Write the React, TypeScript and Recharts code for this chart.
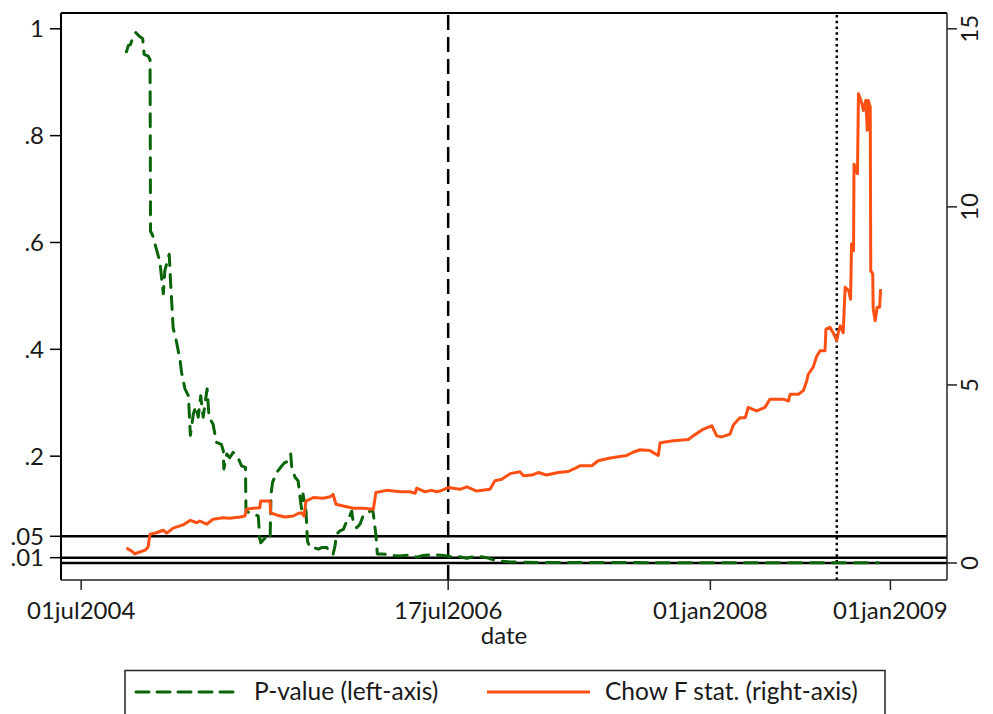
import React from 'react';
import { LineChart, Line, XAxis, YAxis, ReferenceLine } from 'recharts';

// days counted from 01jul2004
const xTicks = [0, 746, 1279, 1645];
const xTickLabels = ['01jul2004', '17jul2006', '01jan2008', '01jan2009'];

const leftTicks = [1, 0.8, 0.6, 0.4, 0.2, 0.05, 0.01];
const leftTickLabels = ['1', '.8', '.6', '.4', '.2', '.05', '.01'];
const rightTicks = [0, 5, 10, 15];

// break dates marked with vertical lines
const breakDay = 746; // 17jul2006
const crisisDay = 1536; // mid-Sep 2008
// significance levels drawn as horizontal rules
const sigLevels = [0.05, 0.01, 0];

const pDay = [
  92, 96, 100, 106, 111, 118, 125, 128, 136, 140, 141, 145, 153, 160, 167, 170, 179, 182, 187, 194,
  201, 204, 211, 218, 222, 228, 233, 238, 243, 248, 256, 260, 268, 275, 285, 289, 290, 296, 302, 309,
  319, 326, 334, 335, 343, 353, 360, 363, 365, 374, 384, 386, 389, 397, 408, 414, 421, 426, 428, 435,
  441, 445, 448, 451, 457, 460, 465, 472, 482, 489, 499, 506, 512, 516, 519, 526, 533, 540, 543, 550,
  553, 560, 567, 573, 580, 587, 592, 594, 599, 602, 611, 621, 634, 648, 668, 682, 695, 716, 736, 750,
  767, 784, 804, 824, 841, 872, 933, 1050, 1200, 1350, 1500, 1620,
];
const pValue = [
  0.957, 0.969, 0.97, 0.986, 0.993, 0.986, 0.982, 0.952, 0.949, 0.942, 0.621, 0.614, 0.587, 0.564, 0.504, 0.547, 0.578, 0.521, 0.44, 0.413,
  0.38, 0.357, 0.326, 0.313, 0.239, 0.279, 0.293, 0.273, 0.313, 0.273, 0.326, 0.273, 0.26, 0.226, 0.222, 0.21, 0.176, 0.204, 0.197, 0.207,
  0.197, 0.182, 0.179, 0.097, 0.094, 0.091, 0.088, 0.047, 0.038, 0.047, 0.044, 0.129, 0.151, 0.169, 0.182, 0.188, 0.191, 0.204, 0.179, 0.16,
  0.154, 0.122, 0.101, 0.129, 0.097, 0.041, 0.029, 0.029, 0.026, 0.029, 0.029, 0.019, 0.016, 0.032, 0.054, 0.06, 0.063, 0.079, 0.082, 0.097,
  0.076, 0.066, 0.073, 0.088, 0.091, 0.097, 0.101, 0.091, 0.054, 0.017, 0.017, 0.016, 0.014, 0.013, 0.015, 0.011, 0.014, 0.016, 0.014, 0.012,
  0.012, 0.009, 0.013, 0.01, 0.005, 0.002, 0.001, 0.001, 0.0005, 0.0005, 0.0003, 0.0003,
];

const fDay = [
  92, 102, 109, 119, 130, 136, 140, 153, 167, 174, 187, 207, 222, 235, 241, 255, 268, 289, 302, 323,
  333, 336, 350, 363, 365, 384, 385, 397, 414, 431, 441, 448, 453, 457, 472, 492, 506, 512, 518, 533,
  553, 573, 594, 599, 621, 648, 668, 679, 682, 699, 712, 723, 729, 746, 770, 784, 804, 831, 841, 855,
  872, 892, 899, 916, 929, 946, 970, 990, 1007, 1014, 1038, 1051, 1075, 1109, 1122, 1136, 1156, 1163, 1173, 1177,
  1204, 1234, 1244, 1265, 1282, 1292, 1302, 1319, 1326, 1339, 1350, 1356, 1373, 1390, 1400, 1427, 1438, 1441, 1458, 1468,
  1475, 1478, 1488, 1495, 1502, 1512, 1514, 1522, 1529, 1536, 1539, 1543, 1549, 1553, 1560, 1564, 1566, 1570, 1571, 1578,
  1580, 1587, 1590, 1595, 1598, 1600, 1604, 1605, 1609, 1610, 1614, 1618, 1623, 1625,
];
const fStat = [
  0.42, 0.34, 0.26, 0.31, 0.36, 0.45, 0.81, 0.85, 0.92, 0.84, 0.98, 1.07, 1.2, 1.13, 1.18, 1.09, 1.23, 1.27, 1.26, 1.29,
  1.32, 1.51, 1.54, 1.55, 1.74, 1.74, 1.41, 1.35, 1.29, 1.32, 1.39, 1.41, 1.32, 1.74, 1.84, 1.82, 1.86, 1.93, 1.65, 1.6,
  1.54, 1.54, 1.51, 1.98, 2.04, 2.0, 2.0, 1.96, 2.1, 2.0, 2.04, 2.0, 2.02, 2.12, 2.07, 2.14, 2.02, 2.07, 2.31, 2.35,
  2.51, 2.56, 2.45, 2.47, 2.54, 2.47, 2.54, 2.57, 2.68, 2.73, 2.73, 2.87, 2.95, 3.02, 3.11, 3.18, 3.16, 3.1, 3.02, 3.38,
  3.43, 3.47, 3.57, 3.76, 3.85, 3.57, 3.54, 3.62, 3.88, 4.08, 4.08, 4.37, 4.27, 4.37, 4.6, 4.6, 4.55, 4.74, 4.74, 4.84,
  5.12, 5.3, 5.5, 5.8, 5.96, 5.96, 6.57, 6.62, 6.45, 6.25, 6.47, 6.66, 6.47, 7.74, 7.65, 7.41, 8.96, 8.77, 11.2, 10.93,
  13.18, 12.9, 12.71, 12.99, 12.15, 12.99, 12.8, 8.21, 8.12, 7.13, 6.8, 7.18, 7.18, 7.69,
];

const pData = pDay.map((d, i) => ({ day: d, p: pValue[i] }));
const fData = fDay.map((d, i) => ({ day: d, f: fStat[i] }));

const GREEN = '#0a640a';
const ORANGE = '#ff5014';
const FONT = 'Lato, "Open Sans", sans-serif';
const leftDomain = [-0.0318, 1.0296];
const rightDomain = [-0.477, 15.444];

const RightTick = (props: any) => {
  const { x, y, payload } = props;
  return (
    <g transform={`translate(${x + 10},${y}) rotate(-90)`}>
      <text x={0} y={0} dy="0.36em" textAnchor="middle" fill="#1a1a1a" fontSize={24} fontFamily={FONT}>
        {payload.value}
      </text>
    </g>
  );
};

export default function App() {
  const tickStyle = { fill: '#1a1a1a', fontSize: 24, fontFamily: FONT };
  return (
    <div style={{ position: 'absolute', left: 0, top: 0, width: 993, height: 714, overflow: 'hidden', background: '#fff' }}>
      <LineChart width={993} height={714} data={pData} margin={{ top: 13, right: 0, bottom: 0, left: 0 }}>
        <XAxis
          type="number"
          dataKey="day"
          domain={[-41, 1760]}
          allowDataOverflow
          ticks={xTicks}
          interval={0}
          tickFormatter={(v: number) => xTickLabels[xTicks.indexOf(v)] ?? ''}
          height={134}
          tick={tickStyle}
          tickSize={10}
          tickMargin={12}
          axisLine={{ stroke: '#222', strokeWidth: 1.5 }}
          tickLine={{ stroke: '#222', strokeWidth: 1.5 }}
          label={{ value: 'date', position: 'insideTop', offset: 47, fill: '#1a1a1a', fontSize: 24, fontFamily: FONT }}
        />
        <YAxis
          yAxisId="left"
          type="number"
          domain={leftDomain}
          allowDataOverflow
          ticks={leftTicks}
          interval={0}
          tickFormatter={(v: number) => leftTickLabels[leftTicks.indexOf(v)] ?? ''}
          width={61}
          tick={tickStyle}
          tickSize={11}
          tickMargin={6}
          axisLine={{ stroke: '#000', strokeWidth: 2 }}
          tickLine={{ stroke: '#000', strokeWidth: 1.5 }}
        />
        <YAxis
          yAxisId="right"
          orientation="right"
          type="number"
          domain={rightDomain}
          allowDataOverflow
          ticks={rightTicks}
          interval={0}
          width={46}
          tick={<RightTick />}
          tickSize={10}
          axisLine={{ stroke: '#222', strokeWidth: 1.5 }}
          tickLine={{ stroke: '#222', strokeWidth: 1.5 }}
        />
        <ReferenceLine yAxisId="left" y={leftDomain[1]} stroke="#000" strokeWidth={2} />
        {sigLevels.map((s) => (
          <ReferenceLine key={s} yAxisId="left" y={s} stroke="#000" strokeWidth={2.5} />
        ))}
        <ReferenceLine yAxisId="left" x={breakDay} stroke="#000" strokeWidth={2.5} strokeDasharray="15 7" />
        <ReferenceLine yAxisId="left" x={crisisDay} stroke="#000" strokeWidth={2.5} strokeDasharray="2.5 3.3" />
        <Line
          yAxisId="left"
          data={pData}
          dataKey="p"
          type="linear"
          stroke={GREEN}
          strokeWidth={3}
          strokeDasharray="13 9"
          strokeLinecap="round"
          strokeLinejoin="round"
          dot={false}
          activeDot={false}
          isAnimationActive={false}
        />
        <Line
          yAxisId="right"
          data={fData}
          dataKey="f"
          type="linear"
          stroke={ORANGE}
          strokeWidth={3}
          strokeLinejoin="round"
          dot={false}
          activeDot={false}
          isAnimationActive={false}
        />
      </LineChart>
      <svg width={993} height={714} style={{ position: 'absolute', left: 0, top: 0, pointerEvents: 'none' }}>
        <rect x={125} y={670.5} width={760} height={60} fill="none" stroke="#222" strokeWidth={1.5} />
        <line x1={136} y1={692} x2={237} y2={692} stroke={GREEN} strokeWidth={3} strokeDasharray="13 8" strokeLinecap="round" />
        <text x={254} y={700} fill="#1a1a1a" fontSize={24.5} fontFamily={FONT}>P-value (left-axis)</text>
        <line x1={487} y1={692} x2={590} y2={692} stroke={ORANGE} strokeWidth={3} />
        <text x={605} y={700} fill="#1a1a1a" fontSize={24.5} fontFamily={FONT}>Chow F stat. (right-axis)</text>
      </svg>
    </div>
  );
}
